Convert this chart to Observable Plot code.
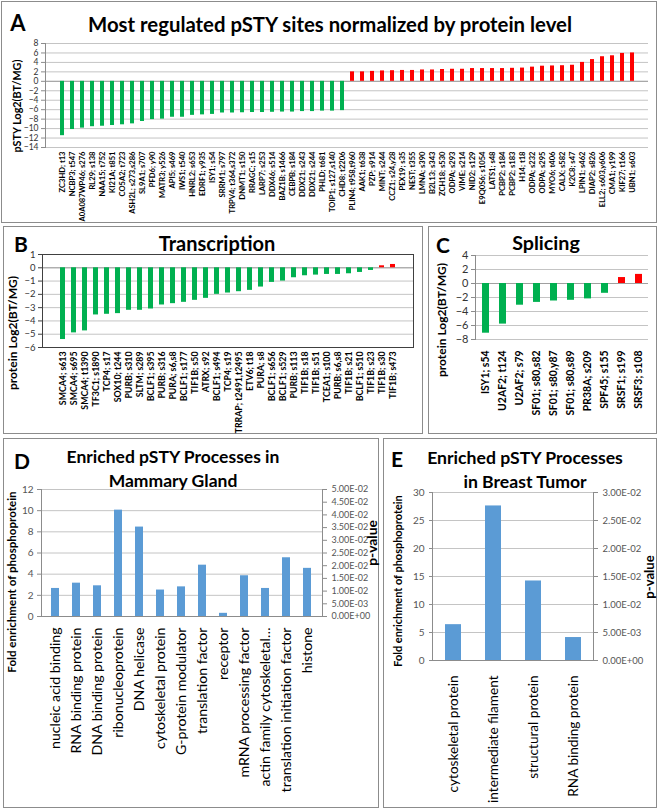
<!DOCTYPE html>
<html><head><meta charset="utf-8">
<script src="https://cdn.jsdelivr.net/npm/d3@7"></script>
<script src="https://cdn.jsdelivr.net/npm/@observablehq/plot@0.6"></script>
<style>
body{margin:0;background:#fff;}
#root{position:relative;width:660px;height:811px;background:#fff;font-family:Lato,"Open Sans",sans-serif;overflow:hidden;}
.box{position:absolute;border:1.5px solid #8c8c8c;box-sizing:border-box;}
.t{position:absolute;transform:translate(-50%,-50%);white-space:nowrap;font-weight:bold;color:#000;line-height:1;}
.r{position:absolute;transform:translate(-50%,-50%) rotate(-90deg);white-space:nowrap;font-weight:bold;color:#000;line-height:1;}
svg{position:absolute;}
</style></head><body><div id="root"></div>
<script>
// ---------- data ----------
const aSites = ["ZC3HD; t13","NCBP3; t547","A0A087WP46; s276","RL29; s138","NAA15; t752","KI21A; t851","CO5A2; t723","ASH2L; s273,s286","SL9A1; s707","PFD6; y90","MATR3; y526","API5; s469","IWS1; t540","HNRL2; s653","EDRF1; y935","ISY1; s54","SRRM1; s797","TRPV4; t364,s372","DNMT1; s150","RRAGC; s15","LARP7; s253","DDX46; s514","BAZ1B; s1466","CEBPB; s184","DDX21; s243","DDX21; s244","PHLD; t681","TOIP1; s127,s140","CHD8; t2206","PLIN4; t958,t960","AAK1; t638","PZP; s914","MINT; s244","CCZ1; s24,y28","PEX19; s35","NEST; t355","LMNA; s390","B2L13; s343","ZCH18; s530","ODPA; s293","VIME; s214","NID2; s129","E9Q0S6; s1054","LATS1; s48","PCBP2; s184","PCBP2; s183","H14; t18","ODPA; s232","ODPA; s295","MYO6; t406","CALX; s582","K2C8; s47","LPIN1; s462","DIAP2; s826","ELL2; s603,y606","CMA1; y199","KIF27; t166","UBN1; s603"];
const aValues = [-11.5,-10.2,-9.9,-9.6,-9.5,-9.35,-9.2,-9.0,-8.5,-8.1,-8.0,-7.6,-7.6,-7.2,-7.1,-7.0,-6.7,-6.7,-6.65,-6.6,-6.6,-6.55,-6.5,-6.5,-6.4,-6.4,-6.3,-6.3,-6.2,
  2.0,2.0,2.1,2.2,2.25,2.3,2.3,2.4,2.4,2.5,2.55,2.55,2.7,2.7,2.7,2.7,2.75,2.8,3.0,3.2,3.25,3.3,3.4,4.0,4.6,5.2,5.4,5.9,6.0];
const aTicks = [-14,-12,-10,-8,-6,-4,-2,0,2,4,6,8];

const bSites = ["SMCA4; s613","SMCA4; s695","SMCA4; t1390","TF3C1; s1890","TCP4; s17","SOX10; t244","PURB; s310","SLTM; s289","BCLF1; s395","PURB; s316","PURA; s6,s8","BCLF1; s177","TIF1B; s50","ATRX; s92","BCLF1; s494","TCP4; s19","TRRAP; t2491,t2495","ETV6; t18","PURA; s8","BCLF1; s656","BCLF1; s529","PURB; s113","TIF1B; s18","TIF1B; s51","TCEA1; s100","PURB; s6,s8","TIF1B; s21","BCLF1; s510","TIF1B; s23","TIF1B; s30","TIF1B; s473"];
const bValues = [-5.4,-4.9,-4.75,-3.55,-3.5,-3.45,-3.2,-3.2,-3.1,-2.8,-2.7,-2.6,-2.45,-2.3,-2.0,-1.9,-1.8,-1.7,-1.45,-1.1,-1.0,-0.75,-0.6,-0.55,-0.5,-0.5,-0.45,-0.35,-0.2,0.15,0.25];
const bTicks = [-6,-5,-4,-3,-2,-1,0,1];

const cSites = ["ISY1; s54","U2AF2; t124","U2AF2; s79","SF01; s80,s82","SF01; s80,y87","SF01; s80,s89","PR38A; s209","SPF45; s155","SRSF1; s199","SRSF3; s108"];
const cValues = [-7.1,-5.8,-3.1,-2.7,-2.5,-2.4,-2.2,-1.4,0.85,1.3];
const cTicks = [-8,-6,-4,-2,0,2,4];

const dCategories = ["nucleic acid binding","RNA binding protein","DNA binding protein","ribonucleoprotein","DNA helicase","cytoskeletal protein","G-protein modulator","translation factor","receptor","mRNA processing factor","actin family cytoskeletal…","translation initiation factor","histone"];
const dFold = [2.65,3.15,2.9,10.05,8.45,2.5,2.8,4.85,0.3,3.85,2.65,5.55,4.55];
const dTicks = [0,2,4,6,8,10,12];
const dPTicks = [0,0.005,0.01,0.015,0.02,0.025,0.03,0.035,0.04,0.045,0.05];

const eCategories = ["cytoskeletal protein","intermediate filament","structural protein","RNA binding protein"];
const eFold = [6.4,27.6,14.2,4.1];
const eTicks = [0,5,10,15,20,25,30];
const ePTicks = [0,0.005,0.01,0.015,0.02,0.025,0.03];

// ---------- helpers ----------
const GREEN = "#00b050", RED = "#ff0000", BLUE = "#5b9bd5", GRID = "#c4c4c4";
const root = document.getElementById("root");
function box(l,t,r,b){const d=document.createElement("div");d.className="box";Object.assign(d.style,{left:l+"px",top:t+"px",width:(r-l)+"px",height:(b-t)+"px"});root.append(d);}
function txt(s,x,y,size,cls="t",fit){
  const d=document.createElement("div");d.className=cls;d.textContent=s;
  Object.assign(d.style,{left:x+"px",top:y+"px",fontSize:size+"px"});root.append(d);
  if (fit) { const w=d.offsetWidth; if (w>0) d.style.fontSize=(size*fit/w)+"px"; }
  return d;
}
function put(svg,l,t){svg.style.left=l+"px";svg.style.top=t+"px";root.append(svg);return svg;}
// scale tick-label font so that a reference label has a given length
function fitAxis(svg,label,target){
  const texts=[...svg.querySelectorAll("text")];
  const t=texts.find(e=>e.textContent===label);
  if(!t) return;
  const len=t.getComputedTextLength();
  const fs=parseFloat(getComputedStyle(t).fontSize);
  if(len>0) t.parentNode.style.fontSize=(fs*target/len)+"px";
}
const sci = d => {
  if (d === 0) return "0.00E+00";
  const e = Math.floor(Math.log10(d) + 1e-9);
  const m = d / Math.pow(10, e);
  return m.toFixed(2) + "E" + (e < 0 ? "-" : "+") + String(Math.abs(e)).padStart(2, "0");
};
const baseStyle = {fontFamily:"Lato, 'Open Sans', sans-serif", background:"transparent", overflow:"visible"};
const sign = d => d.v < 0 ? "down" : "up";

// ---------- boxes ----------
box(1,1,657,223);
box(3,226,423,434);
box(428,226,657,434);
box(3,438,379,808);
box(383,438,657,808);

// ---------- Panel A ----------
const aData = aSites.map((s,i)=>({s, v:aValues[i]}));
const svgA = put(Plot.plot({
  width:656, height:222, marginLeft:44, marginRight:9, marginTop:42, marginBottom:76,
  style:baseStyle,
  x:{domain:aSites, paddingInner:0.6, paddingOuter:0.3, axis:null},
  y:{domain:[-14,8], axis:null},
  color:{domain:["down","up"], range:[GREEN,RED]},
  marks:[
    Plot.gridY(aTicks,{stroke:GRID, strokeOpacity:1}),
    Plot.ruleY([0],{stroke:"#a0a0a0"}),
    Plot.barY(aData,{x:"s", y:"v", fill:sign}),
    Plot.frame({anchor:"left", stroke:"#8c8c8c"}),
    Plot.axisY(aTicks,{tickSize:4, tickPadding:3, fontSize:8.5, stroke:"#8c8c8c", fill:"#333", label:null}),
    Plot.axisX({tickSize:0, tickPadding:4, tickRotate:-90, fontSize:7.5, fontWeight:"bold", fill:"#000", label:null})
  ]
}), 1, 1);
fitAxis(svgA,"A0A087WP46; s276",70);
txt("A",18,23,22);
txt("Most regulated pSTY sites normalized by protein level",330,24,19,"t",484);
txt("pSTY Log2(BT/MG)",17,106,11.5,"r",93);

// ---------- Panel B ----------
const bData = bSites.map((s,i)=>({s, v:bValues[i]}));
const svgB = put(Plot.plot({
  width:420, height:208, marginLeft:39, marginRight:10, marginTop:28, marginBottom:87,
  style:baseStyle,
  x:{domain:bSites, paddingInner:0.55, paddingOuter:0.275, axis:null},
  y:{domain:[-6,1], axis:null},
  color:{domain:["down","up"], range:[GREEN,RED]},
  marks:[
    Plot.gridY(bTicks,{stroke:GRID, strokeOpacity:1}),
    Plot.ruleY([0],{stroke:"#a0a0a0"}),
    Plot.barY(bData,{x:"s", y:"v", fill:sign}),
    Plot.frame({stroke:"#404040"}),
    Plot.axisY(bTicks,{tickSize:4, tickPadding:3, fontSize:9.5, stroke:"#404040", fill:"#333", label:null}),
    Plot.axisX({tickSize:0, tickPadding:4, tickRotate:-90, fontSize:8, fontWeight:"bold", fill:"#000", label:null})
  ]
}), 3, 226);
fitAxis(svgB,"TRRAP; t2491,t2495",82);
txt("B",21,243,21);
txt("Transcription",217,243,20,"t",117);
txt("protein Log2(BT/MG)",13,333,11.5,"r",114);

// ---------- Panel C ----------
const cData = cSites.map((s,i)=>({s, v:cValues[i]}));
const svgC = put(Plot.plot({
  width:229, height:208, marginLeft:47, marginRight:9, marginTop:29, marginBottom:95,
  style:baseStyle,
  x:{domain:cSites, paddingInner:0.6, paddingOuter:0.3, axis:null},
  y:{domain:[-8,4], axis:null},
  color:{domain:["down","up"], range:[GREEN,RED]},
  marks:[
    Plot.gridY(cTicks,{stroke:GRID, strokeOpacity:1}),
    Plot.ruleY([0],{stroke:"#a0a0a0"}),
    Plot.barY(cData,{x:"s", y:"v", fill:sign}),
    Plot.frame({anchor:"left", stroke:"#8c8c8c"}),
    Plot.axisY(cTicks,{tickSize:4, tickPadding:3, fontSize:11, stroke:"#8c8c8c", fill:"#333", label:null}),
    Plot.axisX({tickSize:0, tickPadding:11, tickRotate:-90, fontSize:9.5, fontWeight:"bold", fill:"#000", label:null})
  ]
}), 428, 226);
fitAxis(svgC,"SF01; s80,s82",65);
txt("C",443,244,21);
txt("Splicing",546,243,20,"t",68);
txt("protein Log2(BT/MG)",442,320,11.5,"r",114);

// ---------- Panel D ----------
const dData = dCategories.map((c,i)=>({c, v:dFold[i]}));
const dDims = {width:376, height:370, marginLeft:38, marginRight:57, marginTop:51, marginBottom:192};
const svgD = put(Plot.plot({
  ...dDims, style:baseStyle,
  x:{domain:dCategories, paddingInner:0.6, paddingOuter:0.3, axis:null},
  y:{domain:[0,12], axis:null},
  marks:[
    Plot.gridY(dTicks,{stroke:GRID, strokeOpacity:1}),
    Plot.barY(dData,{x:"c", y:"v", fill:BLUE}),
    Plot.ruleY([0],{stroke:"#8c8c8c"}),
    Plot.frame({anchor:"left", stroke:"#8c8c8c"}),
    Plot.axisY(dTicks,{tickSize:4, tickPadding:4, fontSize:10, stroke:"#8c8c8c", fill:"#555", label:null}),
    Plot.axisX({tickSize:0, tickPadding:11, tickRotate:-90, fontSize:13, fill:"#000", label:null})
  ]
}), 3, 438);
fitAxis(svgD,"translation initiation factor",165);
put(Plot.plot({
  ...dDims, style:baseStyle,
  y:{domain:[0,0.05], axis:null},
  marks:[
    Plot.frame({anchor:"right", stroke:"#8c8c8c"}),
    Plot.axisY(dPTicks,{anchor:"right", tickFormat:sci, tickSize:4, tickPadding:5, fontSize:9, stroke:"#8c8c8c", fill:"#555", label:null})
  ]
}), 3, 438);
txt("D",22,460,21);
const d1 = txt("Enriched pSTY Processes in",173,457,18,"t",213);
txt("Mammary Gland",173,481,parseFloat(d1.style.fontSize));
txt("Fold enrichment of phosphoprotein",12,582,11,"r",181);
txt("p-value",372,543,13.5,"r",46);

// ---------- Panel E ----------
const eData = eCategories.map((c,i)=>({c, v:eFold[i]}));
const eDims = {width:274, height:370, marginLeft:49, marginRight:64, marginTop:54, marginBottom:148};
const svgE = put(Plot.plot({
  ...eDims, style:baseStyle,
  x:{domain:eCategories, paddingInner:0.6, paddingOuter:0.3, axis:null},
  y:{domain:[0,30], axis:null},
  marks:[
    Plot.gridY(eTicks,{stroke:GRID, strokeOpacity:1}),
    Plot.barY(eData,{x:"c", y:"v", fill:BLUE}),
    Plot.ruleY([0],{stroke:"#8c8c8c"}),
    Plot.frame({anchor:"left", stroke:"#8c8c8c"}),
    Plot.axisY(eTicks,{tickSize:3, tickPadding:5, fontSize:10, stroke:"#8c8c8c", fill:"#555", label:null}),
    Plot.axisX({tickSize:0, tickPadding:15, tickRotate:-90, fontSize:13.5, fill:"#000", label:null})
  ]
}), 383, 438);
fitAxis(svgE,"cytoskeletal protein",117);
put(Plot.plot({
  ...eDims, style:baseStyle,
  y:{domain:[0,0.03], axis:null},
  marks:[
    Plot.frame({anchor:"right", stroke:"#8c8c8c"}),
    Plot.axisY(ePTicks,{anchor:"right", tickFormat:sci, tickSize:4, tickPadding:5, fontSize:9.5, stroke:"#8c8c8c", fill:"#555", label:null})
  ]
}), 383, 438);
txt("E",397,458,21);
const e1 = txt("Enriched pSTY Processes",525,458,18,"t",196);
txt("in Breast Tumor",525,482,parseFloat(e1.style.fontSize));
txt("Fold enrichment of phosphoprotein",398,581,10.5,"r",172);
txt("p-value",650,577,14,"r",43);
</script></body></html>
